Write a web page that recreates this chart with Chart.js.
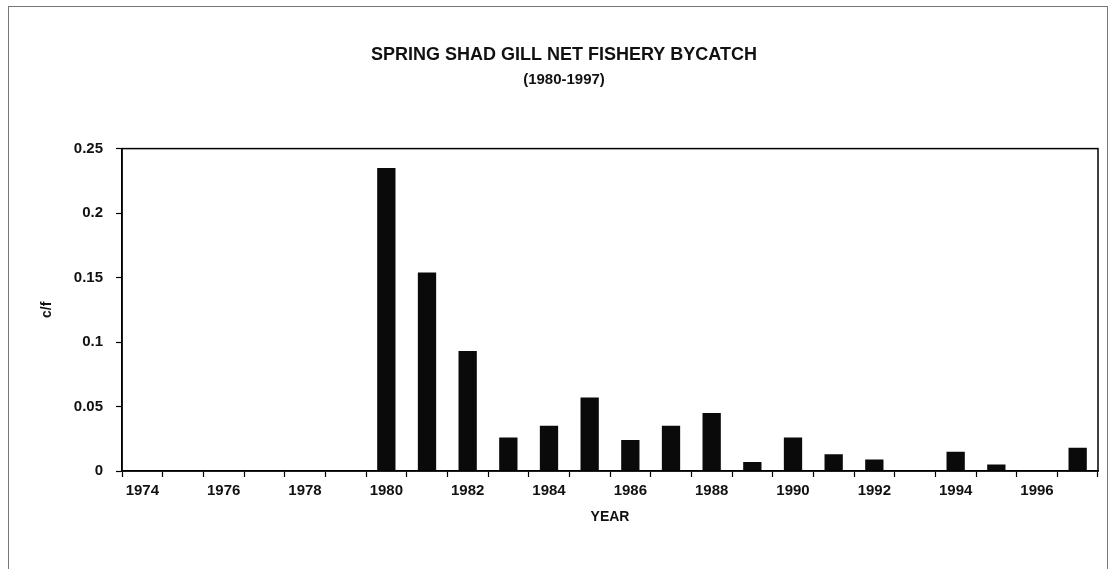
<!DOCTYPE html>
<html>
<head>
<meta charset="utf-8">
<script src="https://cdn.jsdelivr.net/npm/chart.js@4.4.1/dist/chart.umd.min.js"></script>
<style>
  html, body { margin: 0; padding: 0; background: #fff; }
  #wrap { width: 1113px; height: 569px; position: relative; }
</style>
</head>
<body>
<div id="wrap"><canvas id="bycatch"></canvas></div>
<script>
// spring shad gill net bycatch, catch per effort by year
const years = ['1974', '1975', '1976', '1977', '1978', '1979', '1980', '1981', '1982', '1983', '1984', '1985',
               '1986', '1987', '1988', '1989', '1990', '1991', '1992', '1993', '1994', '1995', '1996', '1997'];
const catchPerEffort = [null, null, null, null, null, null, 0.235, 0.154, 0.093, 0.026, 0.035, 0.057,
                        0.024, 0.035, 0.045, 0.007, 0.026, 0.013, 0.009, 0, 0.015, 0.005, 0, 0.018];
const yTicks = [0, 0.05, 0.1, 0.15, 0.2, 0.25];

const font = 'Liberation Sans, Arial, sans-serif';

// box around the plot and the thin page frame
const frame = {
  id: 'frame',
  beforeDraw(chart) {
    const c = chart.ctx;
    c.save();
    c.strokeStyle = '#777';
    c.lineWidth = 1;
    c.strokeRect(8.5, 6.5, 1099, 580);
    c.restore();
  },
  afterDraw(chart) {
    const a = chart.chartArea, c = chart.ctx;
    c.save();
    c.strokeStyle = '#000';
    c.lineWidth = 1.5;
    c.strokeRect(a.left, a.top, a.right - a.left, a.bottom - a.top);
    c.restore();
  }
};

const ctx = document.getElementById('bycatch');

new Chart(ctx, {
  type: 'bar',
  data: {
    labels: years,
    datasets: [{
      data: catchPerEffort,
      backgroundColor: '#0a0a0a',
      borderWidth: 0,
      categoryPercentage: 1,
      barPercentage: 0.45
    }]
  },
  options: {
    responsive: true,
    maintainAspectRatio: false,
    animation: false,
    layout: { padding: { left: 30, right: 15, top: 44, bottom: 43 } },
    plugins: {
      legend: { display: false },
      tooltip: { enabled: false },
      title: {
        display: true,
        text: 'SPRING SHAD GILL NET FISHERY BYCATCH',
        color: '#111',
        font: { family: font, size: 18, weight: 'bold' },
        padding: { top: 0, bottom: 5 }
      },
      subtitle: {
        display: true,
        text: '(1980-1997)',
        color: '#111',
        font: { family: font, size: 15, weight: 'bold' },
        padding: { top: 0, bottom: 60 }
      }
    },
    scales: {
      x: {
        offset: true,
        grid: { offset: true, drawOnChartArea: false, color: '#000', tickLength: 6, tickWidth: 1.2 },
        border: { color: '#000', width: 1.5 },
        ticks: {
          autoSkip: false,
          maxRotation: 0,
          padding: 5,
          color: '#111',
          font: { family: font, size: 15, weight: 'bold' },
          callback: (v, i) => (i % 2 === 0 ? years[i] : '')
        },
        title: {
          display: true,
          text: 'YEAR',
          color: '#111',
          font: { family: font, size: 14, weight: 'bold' },
          padding: { top: 6, bottom: 0 }
        },
        afterFit: (s) => { s.height = 55; }
      },
      y: {
        min: 0,
        max: 0.25,
        afterBuildTicks: (s) => { s.ticks = yTicks.map(v => ({ value: v })); },
        grid: { drawOnChartArea: false, color: '#000', tickLength: 6, tickWidth: 1.2 },
        border: { color: '#000', width: 1.5 },
        ticks: {
          padding: 13,
          color: '#111',
          font: { family: font, size: 15, weight: 'bold' },
          callback: (v) => String(+(+v).toFixed(2))
        },
        title: {
          display: true,
          text: 'c/f',
          color: '#111',
          font: { family: font, size: 14, weight: 'bold' },
          padding: { top: 9, bottom: 0 }
        },
        afterFit: (s) => { s.width = 92; }
      }
    }
  },
  plugins: [frame]
});
</script>
</body>
</html>
